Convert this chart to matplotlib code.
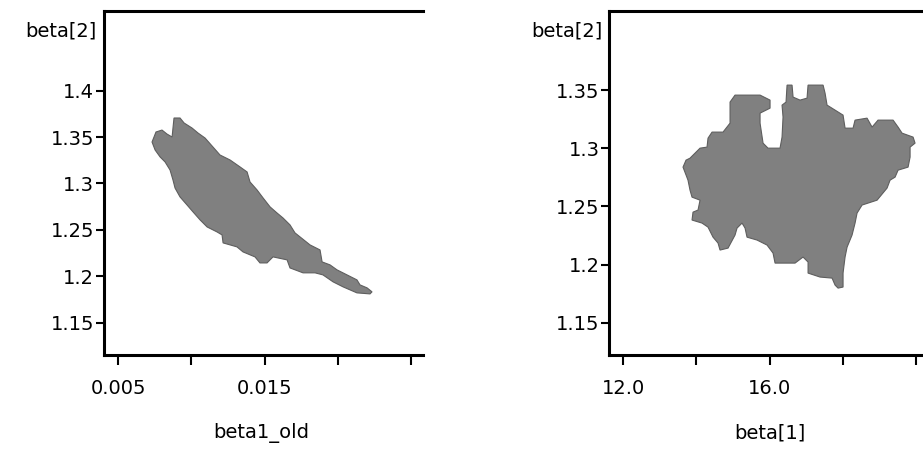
import matplotlib
matplotlib.use("Agg")
import matplotlib.pyplot as plt

plt.rcParams['font.family'] = ['DejaVu Sans']

# outline of the sample cloud: beta1_old vs beta[2]
old_x = [0.00882, 0.00923, 0.00951, 0.01005, 0.01046, 0.01094, 0.01142, 0.01196,
         0.01265, 0.01333, 0.01381, 0.01401, 0.01449, 0.01490, 0.01538, 0.01585,
         0.01626, 0.01674, 0.01708, 0.01742, 0.01811, 0.01879, 0.01893, 0.01947,
         0.01995, 0.02063, 0.02131, 0.02152, 0.02200, 0.02234, 0.02220, 0.02131,
         0.02036, 0.01968, 0.01899, 0.01845, 0.01763, 0.01674, 0.01654, 0.01558,
         0.01517, 0.01469, 0.01435, 0.01353, 0.01312, 0.01217, 0.01210, 0.01176,
         0.01108, 0.01060, 0.01012, 0.00971, 0.00923, 0.00889, 0.00875, 0.00855,
         0.00821, 0.00787, 0.00753, 0.00732, 0.00759, 0.00800, 0.00834, 0.00869,
         0.00875]
old_y = [1.3706, 1.3706, 1.3652, 1.3598, 1.3544, 1.3490, 1.3404, 1.3307,
         1.3253, 1.3178, 1.3124, 1.3016, 1.2930, 1.2844, 1.2747, 1.2682,
         1.2628, 1.2553, 1.2467, 1.2424, 1.2337, 1.2283, 1.2154, 1.2122,
         1.2068, 1.2014, 1.1960, 1.1906, 1.1874, 1.1831, 1.1809, 1.1820,
         1.1885, 1.1939, 1.2014, 1.2036, 1.2036, 1.2089, 1.2176, 1.2208,
         1.2143, 1.2143, 1.2208, 1.2262, 1.2316, 1.2359, 1.2445, 1.2477,
         1.2531, 1.2607, 1.2693, 1.2768, 1.2855, 1.2951, 1.3038, 1.3145,
         1.3232, 1.3286, 1.3361, 1.3447, 1.3555, 1.3576, 1.3533, 1.3501,
         1.3598]

# outline of the sample cloud: beta[1] vs beta[2]
b1_x = [13.632, 13.714, 13.823, 13.905, 14.097, 14.288, 14.315, 14.425, 14.725,
        14.917, 14.917, 15.053, 15.737, 16.010, 16.010, 15.737, 15.737, 15.819,
        15.955, 16.283, 16.338, 16.365, 16.338, 16.447, 16.475, 16.611, 16.639,
        16.830, 17.021, 17.049, 17.459, 17.513, 17.568, 17.787, 18.005, 18.060,
        18.279, 18.333, 18.661, 18.798, 18.962, 19.372, 19.509, 19.618, 19.919,
        19.973, 19.837, 19.837, 19.782, 19.509, 19.427, 19.290, 19.208, 18.935,
        18.525, 18.388, 18.333, 18.251, 18.115, 18.060, 18.005, 18.005, 17.869,
        17.787, 17.705, 17.377, 17.049, 17.049, 16.912, 16.693, 16.147, 16.092,
        15.928, 15.655, 15.381, 15.327, 15.245, 15.108, 15.053, 14.862, 14.643,
        14.589, 14.452, 14.315, 14.151, 13.878, 13.905, 14.042, 14.097, 13.878,
        13.823, 13.768]
b1_y = [1.2838, 1.2898, 1.2915, 1.2941, 1.3001, 1.3010, 1.3087, 1.3139, 1.3139,
        1.3216, 1.3397, 1.3457, 1.3457, 1.3414, 1.3345, 1.3302, 1.3216, 1.3044,
        1.3001, 1.3001, 1.3096, 1.3268, 1.3371, 1.3397, 1.3543, 1.3543, 1.3440,
        1.3414, 1.3431, 1.3543, 1.3543, 1.3474, 1.3371, 1.3328, 1.3285, 1.3173,
        1.3173, 1.3242, 1.3259, 1.3182, 1.3242, 1.3242, 1.3182, 1.3130, 1.3096,
        1.3044, 1.3010, 1.2924, 1.2838, 1.2812, 1.2752, 1.2726, 1.2658, 1.2554,
        1.2512, 1.2443, 1.2357, 1.2254, 1.2150, 1.2065, 1.1927, 1.1807, 1.1798,
        1.1824, 1.1884, 1.1893, 1.1927, 1.2022, 1.2065, 1.2013, 1.2013, 1.2099,
        1.2168, 1.2211, 1.2236, 1.2314, 1.2357, 1.2314, 1.2254, 1.2142, 1.2125,
        1.2185, 1.2236, 1.2322, 1.2357, 1.2383, 1.2451, 1.2469, 1.2554, 1.2580,
        1.2640, 1.2726]

left_xticks = [0.005, 0.010, 0.015, 0.020, 0.025]
left_xlabels = ['0.005', '', '0.015', '', '']
left_yticks = [1.15, 1.2, 1.25, 1.3, 1.35, 1.4]
left_ylabels = ['1.15', '1.2', '1.25', '1.3', '1.35', '1.4']

right_xticks = [12.0, 14.0, 16.0, 18.0, 20.0]
right_xlabels = ['12.0', '', '16.0', '', '']
right_yticks = [1.15, 1.2, 1.25, 1.3, 1.35]
right_ylabels = ['1.15', '1.2', '1.25', '1.3', '1.35']

fig = plt.figure(figsize=(9.23, 4.51), dpi=100)
ax1 = fig.add_axes([104/923, 1-355/451, 319/923, 344/451])
ax2 = fig.add_axes([609.3/923, 1-355/451, 313.7/923, 344/451])


def style(ax, xt, xl, yt, yl, xlab, xlab_x):
    ax.spines['right'].set_visible(False)
    for s in ['left', 'top', 'bottom']:
        ax.spines[s].set_linewidth(2.2)
    ax.set_xticks(xt)
    ax.set_xticklabels(xl)
    ax.set_yticks(yt)
    ax.set_yticklabels(yl)
    ax.tick_params(axis='x', direction='out', length=7.5, width=1.5,
                   pad=10, labelsize=14)
    ax.tick_params(axis='y', direction='out', length=6, width=1.5,
                   pad=1, labelsize=14)
    ax.set_xlabel(xlab, fontsize=14)
    ax.xaxis.set_label_coords(xlab_x, -0.227)
    ax.xaxis.label.set_va('center')
    ax.text(-0.022, 0.942, 'beta[2]', transform=ax.transAxes,
            ha='right', va='center', fontsize=14)


ax1.fill(old_x, old_y, facecolor='#808080', edgecolor='#5e5e5e', linewidth=0.8)
ax1.set_xlim(0.00404, 0.02582)
ax1.set_ylim(1.115, 1.486)
style(ax1, left_xticks, left_xlabels, left_yticks, left_ylabels, 'beta1_old', 0.494)

ax2.fill(b1_x, b1_y, facecolor='#808080', edgecolor='#5e5e5e', linewidth=0.8)
ax2.set_xlim(11.617, 20.19)
ax2.set_ylim(1.1223, 1.418)
style(ax2, right_xticks, right_xlabels, right_yticks, right_ylabels, 'beta[1]', 0.511)

fig.savefig('out.png', dpi=100)
